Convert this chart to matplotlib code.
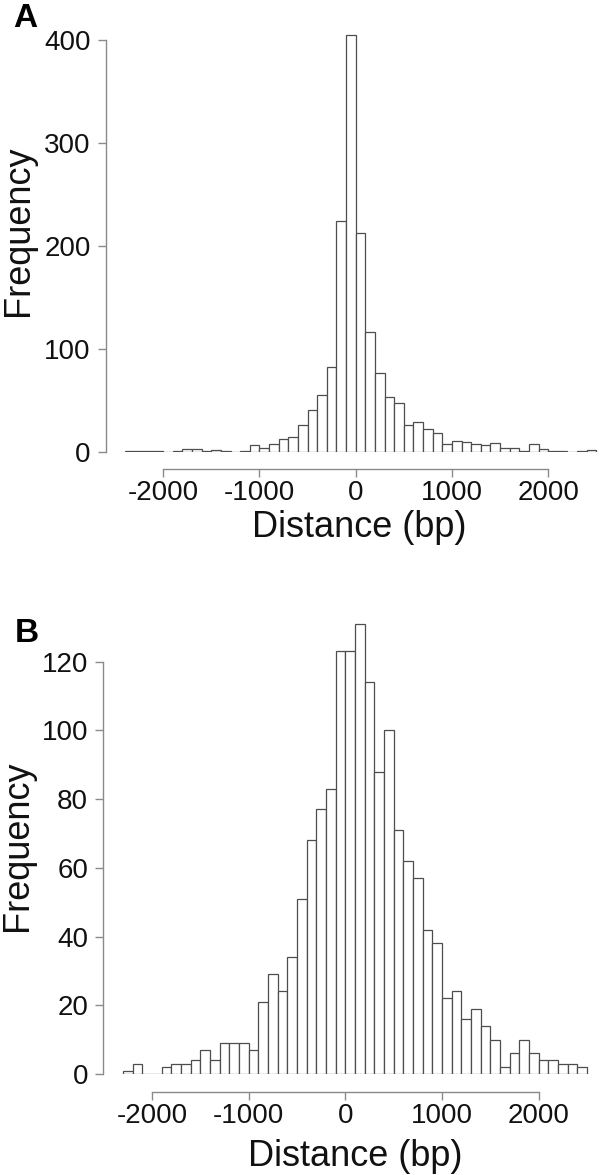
import matplotlib
matplotlib.use("Agg")
import matplotlib.pyplot as plt
import numpy as np

plt.rcParams['font.family'] = ['Liberation Sans', 'DejaVu Sans']
plt.rcParams['axes.unicode_minus'] = False

# histogram counts, 100 bp bins
BIN_WIDTH = 100
a_start = -2400
a_counts = [1, 1, 1, 1, 0, 1, 3, 3, 1, 2, 1, 0, 1, 7, 4, 8, 13, 15, 26, 41,
            55, 83, 224, 405, 213, 117, 77, 53, 48, 26, 29, 22, 18, 8, 11, 10,
            8, 7, 9, 4, 4, 1, 8, 3, 1, 1, 0, 1, 2]
b_start = -2300
b_counts = [1, 3, 0, 0, 2, 3, 3, 4, 7, 4, 9, 9, 9, 7, 21, 29, 24, 34, 51, 68,
            77, 83, 123, 123, 131, 114, 88, 100, 71, 62, 57, 42, 38, 22, 24, 16,
            19, 14, 10, 2, 6, 10, 6, 4, 4, 3, 3, 2]

x_ticks = [-2000, -1000, 0, 1000, 2000]
a_yticks = [0, 100, 200, 300, 400]
b_yticks = [0, 20, 40, 60, 80, 100, 120]

x_label = "Distance (bp)"
y_label = "Frequency"

axis_grey = "#8a8a8a"
bar_edge = "#4d4d4d"


def draw_hist(ax, start, counts, yticks, xlim, ylim, yoff, xoff, ylab_y):
    lefts = start + BIN_WIDTH * np.arange(len(counts))
    ax.bar(lefts, counts, width=BIN_WIDTH, align='edge', color='white',
           edgecolor=bar_edge, linewidth=0.9)
    ax.set_xlim(*xlim)
    ax.set_ylim(*ylim)
    for s in ['top', 'right']:
        ax.spines[s].set_visible(False)
    ax.spines['left'].set_position(('outward', yoff))
    ax.spines['bottom'].set_position(('outward', xoff))
    ax.spines['left'].set_bounds(yticks[0], yticks[-1])
    ax.spines['bottom'].set_bounds(x_ticks[0], x_ticks[-1])
    for s in ['left', 'bottom']:
        ax.spines[s].set_color(axis_grey)
        ax.spines[s].set_linewidth(1.0)
    ax.set_xticks(x_ticks)
    ax.set_yticks(yticks)
    ax.tick_params(axis='both', direction='out', length=6, width=1.0,
                   color=axis_grey, labelsize=20, labelcolor='#111111')
    ax.tick_params(axis='y', pad=5)
    ax.tick_params(axis='x', pad=2)
    ax.set_facecolor('none')
    ax.set_xlabel(x_label, fontsize=26, va='center', color='#111111')
    ax.set_ylabel(y_label, fontsize=26, va='center', color='#111111')
    ax.xaxis.set_label_coords(0.5, -0.18)
    ax.yaxis.set_label_coords(-0.212, ylab_y)


fig = plt.figure(figsize=(6, 11.75), dpi=100)

ax_a = fig.add_axes([0.1998, 0.6153, 0.7973, 0.3592])
draw_hist(ax_a, a_start, a_counts, a_yticks, (-2450, 2520), (0, 410),
          10, 12.2, 0.525)

ax_b = fig.add_axes([0.1968, 0.0860, 0.7913, 0.3889])
draw_hist(ax_b, b_start, b_counts, b_yticks, (-2350, 2560), (0, 133),
          10.5, 12.7, 0.5)

fig.text(13 / 600, 1 - 27 / 1175, "A", fontsize=24, fontweight='bold',
         va='baseline', ha='left')
fig.text(15 / 600, 1 - 642 / 1175, "B", fontsize=24, fontweight='bold',
         va='baseline', ha='left')

fig.savefig("out.png", dpi=100)
